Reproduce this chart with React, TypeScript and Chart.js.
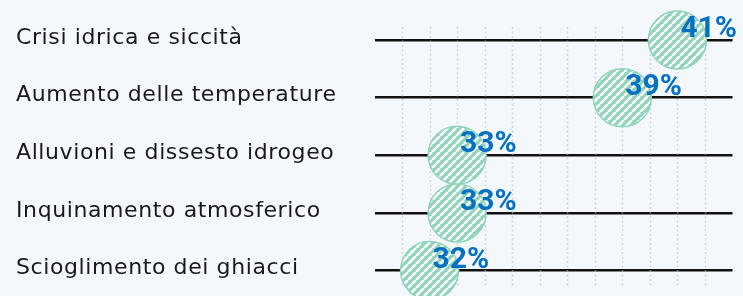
import { useEffect, useRef } from "react";
import { Chart, registerables } from "chart.js";

Chart.register(...registerables);

const categories = [
  "Crisi idrica e siccità",
  "Aumento delle temperature",
  "Alluvioni e dissesto idrogeo",
  "Inquinamento atmosferico",
  "Scioglimento dei ghiacci",
];
const values = [41, 39, 33, 33, 32];
const axisMin = 30;
const axisMax = 43;
const axisStep = 1;

const GREEN = "#92d3bb";
const BLUE = "#0070c0";

function makePattern(): CanvasPattern | string {
  const c = document.createElement("canvas");
  c.width = 8;
  c.height = 8;
  const g = c.getContext("2d");
  if (!g) return GREEN;
  g.fillStyle = GREEN;
  g.fillRect(0, 0, 8, 8);
  g.strokeStyle = "#ffffff";
  g.lineWidth = 2.6;
  g.beginPath();
  for (const o of [-8, 0, 8]) {
    g.moveTo(o, 8);
    g.lineTo(o + 8, 0);
  }
  g.stroke();
  return g.createPattern(c, "repeat") || GREEN;
}

const overlay = {
  id: "overlay",
  beforeDatasetsDraw(chart: any) {
    const { ctx, chartArea, scales } = chart;
    const x = scales.x;
    ctx.save();
    ctx.strokeStyle = "rgba(185,190,200,0.55)";
    ctx.lineWidth = 1.5;
    ctx.setLineDash([2, 2.5]);
    x.ticks.forEach((t: any) => {
      if (t.value <= axisMin || t.value >= axisMax) return;
      const px = Math.round(x.getPixelForValue(t.value)) + 0.5;
      ctx.beginPath();
      ctx.moveTo(px, chartArea.top - 13);
      ctx.lineTo(px, chartArea.bottom + 15);
      ctx.stroke();
    });
    ctx.restore();
  },
  afterDraw(chart: any) {
    const { ctx, scales } = chart;
    const y = scales.y;
    ctx.save();
    ctx.fillStyle = "#1a1a1a";
    ctx.font = '22px "DejaVu Sans"';
    ctx.textAlign = "left";
    ctx.textBaseline = "middle";
    (ctx as any).letterSpacing = "0.6px";
    categories.forEach((label, i) => {
      ctx.fillText(label, y.left, y.getPixelForValue(i) - 2);
    });
    (ctx as any).letterSpacing = "0px";
    const meta = chart.getDatasetMeta(0);
    ctx.fillStyle = BLUE;
    ctx.font = 'bold 30px Roboto';
    ctx.textBaseline = "alphabetic";
    meta.data.forEach((pt: any, i: number) => {
      ctx.fillText(values[i] + "%", pt.x + 3, pt.y - 3);
    });
    ctx.restore();
  },
};

export default function App() {
  const ref = useRef<HTMLCanvasElement | null>(null);

  useEffect(() => {
    if (!ref.current) return;
    const pattern = makePattern();
    const chart = new Chart(ref.current, {
      type: "line",
      data: {
        labels: categories,
        datasets: [
          {
            data: values,
            showLine: false,
            pointRadius: 29,
            pointHoverRadius: 29,
            pointStyle: "circle",
            pointBackgroundColor: pattern as any,
            pointBorderColor: GREEN,
            pointBorderWidth: 1.5,
            clip: false as any,
          },
        ],
      },
      options: {
        indexAxis: "y",
        animation: false,
        responsive: true,
        maintainAspectRatio: false,
        events: [],
        layout: {
          autoPadding: false,
          padding: { left: 16, top: 40, right: 10.5, bottom: 25.4 },
        },
        plugins: { legend: { display: false }, tooltip: { enabled: false } },
        scales: {
          x: {
            type: "linear",
            display: false,
            min: axisMin,
            max: axisMax,
            ticks: { stepSize: axisStep },
          },
          y: {
            type: "category",
            offset: false,
            z: 1,
            ticks: { display: false },
            border: { display: false },
            grid: {
              offset: false,
              color: "#111111",
              lineWidth: 2.5,
              drawTicks: false,
            },
            afterFit: (s: any) => {
              s.width = 358.5;
            },
          },
        },
      },
      plugins: [overlay],
    });
    return () => chart.destroy();
  }, []);

  return (
    <div
      style={{
        position: "absolute",
        left: 0,
        top: 0,
        width: 743,
        height: 296,
        background: "#f4f7fc",
      }}
    >
      <canvas ref={ref} />
    </div>
  );
}
